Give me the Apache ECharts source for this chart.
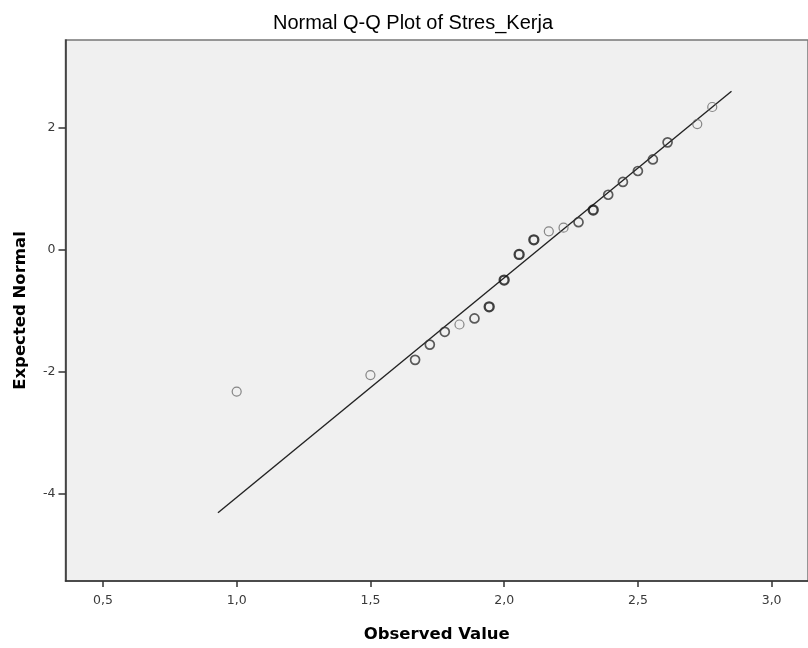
<!DOCTYPE html>
<html>
<head>
<meta charset="utf-8">
<script src="https://cdn.jsdelivr.net/npm/echarts@6/dist/echarts.min.js"></script>
<style>
  html, body { margin: 0; padding: 0; background: #fff; }
  #qqchart { width: 808px; height: 648px; }
</style>
</head>
<body>
<div id="qqchart"></div>
<script>
// observed value of Stres_Kerja and the expected normal score of each point
var observed = [1.0, 1.5, 1.667, 1.722, 1.778, 1.833, 1.889, 1.944, 2.0, 2.056, 2.111,
  2.167, 2.222, 2.278, 2.333, 2.389, 2.444, 2.5, 2.556, 2.611, 2.722, 2.778];
var expected = [-2.33, -2.06, -1.81, -1.56, -1.35, -1.23, -1.13, -0.94, -0.5, -0.08, 0.16,
  0.3, 0.36, 0.45, 0.65, 0.9, 1.11, 1.29, 1.48, 1.76, 2.06, 2.34];
// how many cases sit on each point (overlapping circles look darker)
var ties = [1, 1, 2, 2, 2, 1, 2, 3, 3, 3, 3, 1, 1, 2, 3, 2, 2, 2, 2, 2, 1, 1];
// end points of the reference line
var refLine = [[0.93, -4.32], [2.85, 2.6]];
var xTicks = [0.5, 1.0, 1.5, 2.0, 2.5, 3.0];
var yTicks = [-4, -2, 0, 2];

var chart = echarts.init(document.getElementById("qqchart"));

var points = [];
for (var i = 0; i < observed.length; i++) {
  var t = ties[i];
  points.push({
    value: [observed[i], expected[i]],
    itemStyle: {
      color: "rgba(0,0,0,0)",
      borderColor: t == 1 ? "#6a6a6a" : t == 2 ? "#333" : "#111",
      borderWidth: t == 1 ? 1.2 : t == 2 ? 1.7 : 2.3,
    },
  });
}

var option = {
  animation: false,
  title: {
    text: "Normal Q-Q Plot of Stres_Kerja",
    left: 408,
    textAlign: "center",
    top: 8,
    textStyle: {
      fontFamily: "Liberation Sans",
      fontWeight: "normal",
      fontSize: 20,
      color: "#000",
    },
  },
  grid: {
    left: 65.5,
    top: 40,
    right: -10,
    bottom: 63,
    show: true,
    backgroundColor: "#f0f0f0",
    borderColor: "#777",
    borderWidth: 1.5,
  },
  xAxis: {
    type: "value",
    min: 0.36,
    max: 3.136,
    name: "Observed Value",
    nameLocation: "middle",
    nameGap: 45,
    nameTextStyle: {
      fontFamily: "DejaVu Sans",
      fontWeight: "bold",
      fontSize: 16.5,
      color: "#000",
    },
    axisLine: { show: true, onZero: false, lineStyle: { color: "#333", width: 1.5 } },
    axisTick: { show: true, customValues: xTicks, length: 6, lineStyle: { color: "#333", width: 1.5 } },
    axisLabel: {
      customValues: xTicks,
      margin: 13,
      fontFamily: "DejaVu Sans",
      fontSize: 12.5,
      color: "#3a3a3a",
      formatter: function (v) { return v.toFixed(1).replace(".", ","); },
    },
    splitLine: { show: false },
  },
  yAxis: {
    type: "value",
    min: -5.44,
    max: 3.44,
    name: "Expected Normal",
    nameLocation: "middle",
    nameGap: 36,
    nameTextStyle: {
      fontFamily: "DejaVu Sans",
      fontWeight: "bold",
      fontSize: 16.5,
      color: "#000",
    },
    axisLine: { show: true, onZero: false, lineStyle: { color: "#333", width: 1.5 } },
    axisTick: { show: true, customValues: yTicks, length: 7, lineStyle: { color: "#333", width: 1.5 } },
    axisLabel: {
      customValues: yTicks,
      margin: 10,
      fontFamily: "DejaVu Sans",
      fontSize: 12.5,
      color: "#3a3a3a",
      formatter: function (v) { return String(v); },
    },
    splitLine: { show: false },
  },
  series: [
    {
      type: "line",
      data: refLine,
      symbol: "none",
      silent: true,
      lineStyle: { color: "#222", width: 1.4 },
      z: 2,
    },
    {
      type: "scatter",
      data: points,
      symbol: "circle",
      symbolSize: 9,
      silent: true,
      z: 3,
    },
  ],
};
chart.setOption(option, true);
</script>
</body>
</html>
